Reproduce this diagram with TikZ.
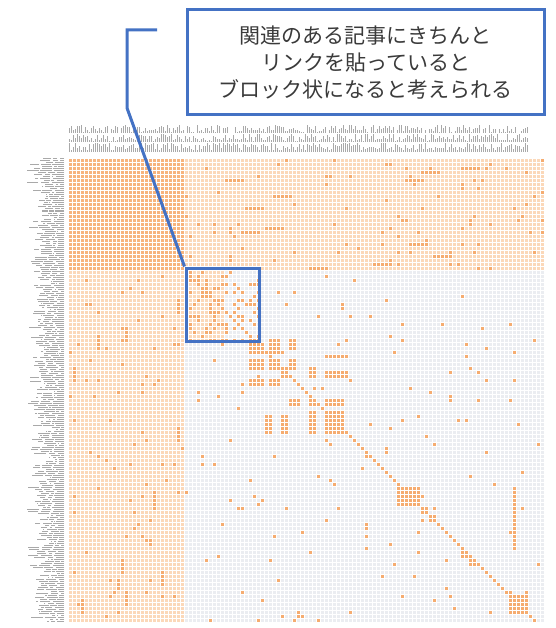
\documentclass[tikz,border=0pt]{standalone}
\usepackage{fontspec}
\newfontfamily\jpfont{Noto Sans CJK JP}
\definecolor{boxblue}{HTML}{4472C4}
\definecolor{txtc}{HTML}{3A3A3A}
\definecolor{greyc}{HTML}{EBEDF1}
\definecolor{bandc}{HTML}{FBD8B9}
\definecolor{cornerc}{HTML}{F7B47D}
\definecolor{dotc}{HTML}{F5AC70}
\definecolor{lblc}{HTML}{8C8C8C}
\newcommand\mcell[3][dotc]{\fill[#1] ({68+4*(#2)},{158+4*(#3)}) rectangle ++(4,4);}
\newcommand\mblock[5][dotc]{\fill[#1] ({68+4*(#2)},{158+4*(#3)}) rectangle ({68+4*(#4+1)},{158+4*(#5+1)});}
\tikzset{
  callout/.style={draw=boxblue, line width=3pt, fill=white, align=center, text=txtc,
    font=\jpfont\fontsize{21}{27}\selectfont, inner sep=0pt},
  hilite/.style={draw=boxblue, line width=3pt, inner sep=0pt},
  leader/.style={draw=boxblue, line width=3pt},
  gridline/.style={draw=white, line width=0.5pt},
  lblmark/.style={draw=lblc!75, line width=1pt},
}
\begin{document}
\begin{tikzpicture}[x=1pt,y=-1pt]
\path[use as bounding box, fill=white] (0,0) rectangle (555,628);
% matrix backgrounds
\fill[greyc] (68,158) rectangle (544,622);
\fill[bandc] (68,158) rectangle (544,270);
\fill[bandc] (68,158) rectangle (184,622);
\fill[cornerc] (68,158) rectangle (184,270);
\mblock[bandc]{30}{28}{38}{45}
% random dots
\pgfmathsetseed{4711}
\foreach \i in {1,...,150}{\pgfmathrandominteger{\c}{29}{118}\pgfmathrandominteger{\r}{28}{115}\mcell{\c}{\r}}
\foreach \i in {1,...,90}{\pgfmathrandominteger{\c}{29}{118}\pgfmathrandominteger{\r}{0}{27}\mcell{\c}{\r}}
\foreach \i in {1,...,12}{\pgfmathrandominteger{\c}{29}{110}\pgfmathrandominteger{\r}{0}{27}\mblock{\c}{\r}{\c+4}{\r}}
\foreach \i in {1,...,80}{\pgfmathrandominteger{\c}{0}{28}\pgfmathrandominteger{\r}{28}{115}\mcell{\c}{\r}}
\foreach \i in {1,...,10}{\pgfmathrandominteger{\c}{0}{28}\pgfmathrandominteger{\r}{28}{110}\mblock{\c}{\r}{\c}{\r+3}}
\foreach \i in {1,...,110}{\pgfmathrandominteger{\c}{30}{47}\pgfmathrandominteger{\r}{28}{45}\mcell{\c}{\r}}
% diagonal
\foreach \c in {30,...,116}{\mcell{\c}{\c-1}}
% cluster blocks
\mblock{45}{46}{48}{48}\mblock{50}{45}{52}{48}\mblock{55}{45}{56}{47}
\mblock{45}{50}{48}{52}\mblock{50}{50}{52}{52}\mblock{53}{52}{54}{54}
\mblock{45}{55}{48}{56}\mblock{50}{55}{52}{56}\mblock{55}{50}{56}{52}
\mblock{60}{52}{61}{54}\mblock{64}{49}{69}{49}\mblock{64}{53}{69}{54}
\mblock{49}{64}{50}{68}\mblock{53}{64}{54}{68}\mblock{55}{60}{57}{61}
\mblock{60}{60}{61}{61}\mblock{64}{60}{68}{61}\mblock{60}{63}{61}{68}
\mblock{64}{63}{68}{68}
\mblock{82}{82}{87}{86}
\mblock{88}{87}{89}{88}\mblock{90}{89}{91}{90}\mcell{91}{87}\mcell{88}{90}
\mblock{98}{98}{99}{99}\mblock{100}{100}{101}{101}
\mblock{110}{109}{114}{113}
\mblock{111}{82}{111}{97}
% grid
\foreach \i in {0,...,119}{\draw[gridline] ({68+4*\i},158) -- ++(0,464);}
\foreach \j in {0,...,116}{\draw[gridline] (68,{158+4*\j}) -- ++(476,0);}
% label marks (blurred, unreadable labels)
\pgfmathsetseed{99}
\foreach \i in {0,...,229}{%
  \pgfmathrandominteger{\la}{2}{9}\pgfmathrandominteger{\lb}{1}{8}\pgfmathrandominteger{\lc}{0}{8}%
  \draw[lblmark] ({69+2*\i},152) -- ++(0,-\la);
  \draw[lblmark] ({69+2*\i},142) -- ++(0,-\lb);
  \draw[lblmark] ({69+2*\i},133) -- ++(0,-\lc);}
\foreach \j in {0,...,231}{%
  \pgfmathrandominteger{\la}{3}{12}\pgfmathrandominteger{\lb}{1}{12}\pgfmathrandominteger{\lc}{0}{12}%
  \pgfmathrandominteger{\ga}{1}{3}\pgfmathrandominteger{\gb}{1}{3}%
  \draw[lblmark] (64,{159+2*\j}) -- ++(-\la,0);
  \draw[lblmark] ({64-\la-\ga},{159+2*\j}) -- ++(-\lb,0);
  \draw[lblmark] ({64-\la-\ga-\lb-\gb},{159+2*\j}) -- ++(-\lc,0);}
% callout
\node[callout, minimum width=357pt, minimum height=105pt] (note) at (365.5,62.5)
  {関連のある記事にきちんと\\リンクを貼っていると\\ブロック状になると考えられる};
\node[hilite, minimum width=73pt, minimum height=73pt] (blk) at (222.5,304.5) {};
\coordinate (c0) at (157,30);
\coordinate (c1) at (127,30);
\coordinate (c2) at (127,108);
\draw[leader] (c0) -- (c1) -- (c2) -- (blk.north west);
\end{tikzpicture}
\end{document}
